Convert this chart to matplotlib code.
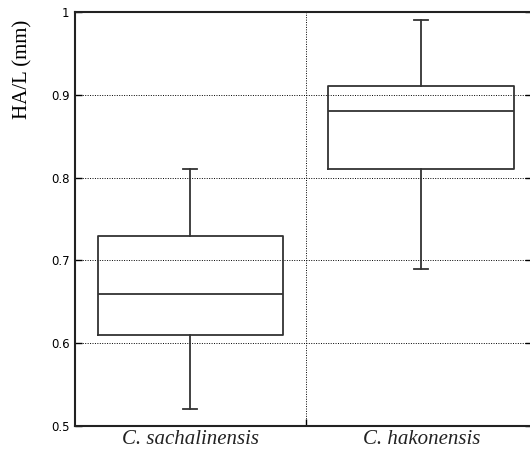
import matplotlib
matplotlib.use("Agg")
import matplotlib.pyplot as plt

# data
species = ["C. sachalinensis", "C. hakonensis"]
whisker_low = [0.52, 0.69]
q1 = [0.61, 0.81]
median = [0.66, 0.88]
q3 = [0.73, 0.91]
whisker_high = [0.81, 0.99]
yticks = [0.5, 0.6, 0.7, 0.8, 0.9, 1.0]
ytick_labels = ["0.5", "0.6", "0.7", "0.8", "0.9", "1"]

fig = plt.figure(figsize=(5.3, 4.55), dpi=100)
ax = fig.add_axes([0.1415, 0.0637, 0.8623, 0.91])

stats = []
for i, name in enumerate(species):
    stats.append(dict(label=name, whislo=whisker_low[i], q1=q1[i],
                      med=median[i], q3=q3[i], whishi=whisker_high[i]))

line = dict(color="#333333", linewidth=1.3)
ax.bxp(stats, positions=[0.5, 1.5], widths=0.804, showfliers=False,
       boxprops=line, medianprops=line, whiskerprops=line,
       capprops=line, capwidths=0.06, manage_ticks=False)

ax.set_xlim(0, 1.98)
ax.set_ylim(0.5, 1.0)
ax.set_yticks(yticks)
ax.set_yticklabels(ytick_labels, fontsize=8.5)
ax.set_xticks([1])
ax.set_xticklabels([""])
ax.grid(True, linestyle=(0, (1, 1.5)), color="black", linewidth=0.7)
ax.tick_params(axis="both", direction="in", length=5, width=1,
               right=True, top=False, pad=4)

for i, name in enumerate(species):
    ax.text([0.5, 1.5][i], -0.01, name, transform=ax.get_xaxis_transform(),
            ha="center", va="top", fontsize=15, family="Liberation Serif",
            style="italic", color="#222222")

ax.set_ylabel("HA/L (mm)", fontsize=15, family="Liberation Serif")
ax.yaxis.set_label_coords(-0.094, 0.862)

for s in ax.spines.values():
    s.set_linewidth(1.5)
    s.set_color("#222222")
ax.spines["right"].set_visible(False)

fig.savefig("out.png", dpi=100)
